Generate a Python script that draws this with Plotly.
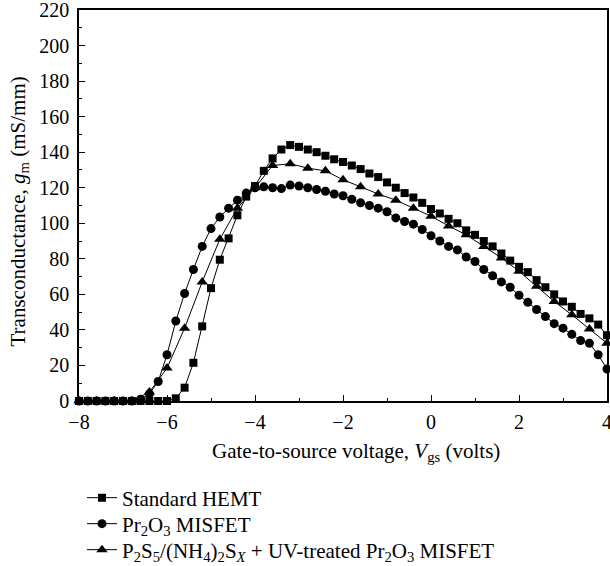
import plotly.graph_objects as go

# ---- data ----
vgs_02 = [-8.0, -7.8, -7.6, -7.4, -7.2, -7.0, -6.8, -6.6, -6.4, -6.2,
          -6.0, -5.8, -5.6, -5.4, -5.2, -5.0, -4.8, -4.6, -4.4, -4.2,
          -4.0, -3.8, -3.6, -3.4, -3.2, -3.0, -2.8, -2.6, -2.4, -2.2,
          -2.0, -1.8, -1.6, -1.4, -1.2, -1.0, -0.8, -0.6, -0.4, -0.2,
          0.0, 0.2, 0.4, 0.6, 0.8, 1.0, 1.2, 1.4, 1.6, 1.8,
          2.0, 2.2, 2.4, 2.6, 2.8, 3.0, 3.2, 3.4, 3.6, 3.8, 4.0]

gm_hemt = [0, 0, 0, 0, 0, 0, 0, 0, 0, 0,
           0, 1.5, 7.5, 21.5, 42, 63.5, 79.5, 91.5, 104.5, 115,
           121, 129.5, 136.5, 141.5, 144, 143, 141.5, 140, 138, 136,
           134.5, 132.5, 130.5, 128, 126, 123, 120, 117, 114.5, 111.5,
           108, 105.5, 102.5, 100, 96, 93.5, 90, 87, 83, 79,
           75.5, 72.5, 68, 64, 60, 56, 53, 49, 46.5, 43, 37]

gm_misfet = [0, 0, 0, 0, 0, 0, 0, 1, 4, 11,
             26, 45, 60.5, 74, 87, 97, 103.5, 108.5, 113, 117,
             120, 120.5, 120, 119.5, 121.5, 121, 120, 119, 118, 116.5,
             115.5, 113.5, 111.5, 110, 108.5, 106.5, 103, 101, 99.5, 96.5,
             93, 90, 87, 85, 81, 78.5, 74, 70.5, 67, 64,
             59.5, 55.5, 51.5, 47.5, 43.5, 41, 37.5, 34, 32.5, 26, 18]

vgs_04 = [-8.0, -7.6, -7.2, -6.8, -6.4, -6.0, -5.6, -5.2, -4.8, -4.4,
          -4.0, -3.6, -3.2, -2.8, -2.4, -2.0, -1.6, -1.2, -0.8, -0.4,
          0.0, 0.4, 0.8, 1.2, 1.6, 2.0, 2.4, 2.8, 3.2, 3.6, 4.0]

gm_treated = [0, 0, 0, 0, 5, 18.5, 41, 67, 91, 108.5,
              120, 132.5, 133.5, 131, 129.5, 124.5, 120.5, 116.5, 113, 108.5,
              104, 98.5, 93.5, 87, 80.5, 73, 64.5, 56, 48.5, 40.5, 32.5]

names = ["Standard HEMT",
         "Pr<sub>2</sub>O<sub>3</sub> MISFET",
         "P<sub>2</sub>S<sub>5</sub>/(NH<sub>4</sub>)<sub>2</sub>S<sub><i>X</i></sub> + UV-treated Pr<sub>2</sub>O<sub>3</sub> MISFET"]

x_ticks = [-8, -6, -4, -2, 0, 2, 4]
y_ticks = [0, 20, 40, 60, 80, 100, 120, 140, 160, 180, 200, 220]

x_title = "Gate-to-source voltage, <i>V</i><sub>gs</sub> (volts)"
y_title = "Transconductance, <i>g</i><sub>m</sub> (mS/mm)"

FONT = "Liberation Serif"

fig = go.Figure()
series = [
    (vgs_02, gm_hemt, names[0], "square", 8, "legend"),
    (vgs_02, gm_misfet, names[1], "circle", 9, "legend2"),
    (vgs_04, gm_treated, names[2], "triangle-up", 10, "legend3"),
]
for xs, ys, nm, sym, sz, lg in series:
    fig.add_trace(go.Scatter(
        x=xs, y=ys, name=nm, mode="lines+markers",
        line=dict(color="black", width=1),
        marker=dict(symbol=sym, size=sz, color="black"),
        cliponaxis=False, legend=lg,
    ))

leg_common = dict(x=0.0057, xanchor="left", yanchor="middle",
                  font=dict(family=FONT, size=21, color="black"),
                  bgcolor="rgba(0,0,0,0)")

fig.update_layout(
    width=610, height=566,
    margin=dict(l=79, r=3, t=10, b=165, autoexpand=False),
    paper_bgcolor="white", plot_bgcolor="white",
    font=dict(family=FONT, size=20, color="black"),
    showlegend=True,
    legend=dict(y=-0.2481, **leg_common),
    legend2=dict(y=-0.3146, **leg_common),
    legend3=dict(y=-0.3811, **leg_common),
    annotations=[
        dict(text=x_title, xref="paper", yref="paper", x=0.5246, y=-0.1304,
             xanchor="center", yanchor="middle", showarrow=False,
             font=dict(family=FONT, size=21, color="black")),
        dict(text=y_title, xref="paper", yref="paper", x=-0.1136, y=0.4847,
             xanchor="center", yanchor="middle", showarrow=False, textangle=-90,
             font=dict(family=FONT, size=21, color="black")),
    ],
)
fig.update_xaxes(
    range=[-8, 4], tickvals=x_ticks, ticks="inside", ticklen=6, tickwidth=1,
    tickcolor="black", showline=True, linecolor="black", linewidth=1.5,
    mirror=True, showgrid=False, zeroline=False, automargin=False,
    minor=dict(dtick=1, ticks="inside", ticklen=3, tickcolor="black", showgrid=False),
    tickfont=dict(family=FONT, size=20), ticklabelstandoff=2,
    ticklabeloverflow="allow",
)
fig.update_yaxes(
    range=[0, 220], tickvals=y_ticks, ticks="inside", ticklen=6, tickwidth=1,
    tickcolor="black", showline=True, linecolor="black", linewidth=1.5,
    mirror=True, showgrid=False, zeroline=False, automargin=False,
    minor=dict(dtick=10, ticks="inside", ticklen=3, tickcolor="black", showgrid=False),
    tickfont=dict(family=FONT, size=20), ticklabelstandoff=4,
    ticklabeloverflow="allow",
)

fig.write_html("out.html", config={"displayModeBar": False},
               post_script="document.body.style.margin='0';document.body.style.overflow='hidden';")
